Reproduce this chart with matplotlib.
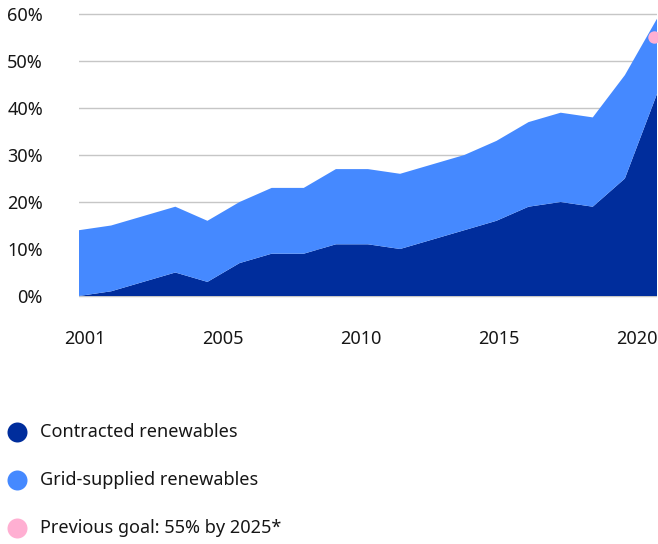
import numpy as np
import matplotlib
matplotlib.use("Agg")
import matplotlib.pyplot as plt
from matplotlib.lines import Line2D

# ── Data ─────────────────────────────────────────────────────────
contracted = [0, 1, 3, 5, 3, 7, 9, 9, 11, 11, 10, 12, 14, 16, 19, 20, 19, 25, 43]
total = [14, 15, 17, 19, 16, 20, 23, 23, 27, 27, 26, 28, 30, 33, 37, 39, 38, 47, 59]
grid_supplied = [t - c for t, c in zip(total, contracted)]
previous_goal = 55

year_labels = ["2001", "2005", "2010", "2015", "2020"]
y_ticks = [0, 10, 20, 30, 40, 50, 60]
legend_labels = ["Contracted renewables", "Grid-supplied renewables",
                 "Previous goal: 55% by 2025*"]

DARK = "#002d9c"
LIGHT = "#4589ff"
PINK = "#ffafd2"
TEXT = "#161616"
GRID = "#c6c6c6"

plt.rcParams["font.family"] = ["Noto Sans", "DejaVu Sans"]

W, H = 658, 544
fig = plt.figure(figsize=(W / 100, H / 100), dpi=100)

# axes placed in pixels: x index 0 -> 79px, 18 -> 657px; 0% -> 296px, 60% -> 14px
px_per_pct = (296 - 14) / 60
y_lo, y_hi = -0.5, 61
ax_bottom_px = 296 + (0 - y_lo) * px_per_pct
ax_top_px = 14 - (y_hi - 60) * px_per_pct
ax = fig.add_axes([79 / W, 1 - ax_bottom_px / H, (657 - 79) / W,
                   (ax_bottom_px - ax_top_px) / H])

x = np.arange(len(contracted))
ax.stackplot(x, contracted, grid_supplied, colors=[DARK, LIGHT], zorder=2)
ax.scatter([x[-1] - 0.08], [previous_goal], s=80, color=PINK, zorder=3,
           linewidths=0, clip_on=False)

for v in y_ticks:
    ax.axhline(v, color=GRID, linewidth=1, zorder=1)

ax.set_xlim(0, len(contracted) - 1)
ax.set_ylim(y_lo, y_hi)

ax.set_yticks(y_ticks)
ax.set_yticklabels([f"{v}%" for v in y_ticks])
ax.set_xticks(np.linspace(0.19, 17.37, len(year_labels)))
ax.set_xticklabels(year_labels)
ax.tick_params(axis="y", length=0, pad=26, labelsize=13, labelcolor=TEXT)
ax.tick_params(axis="x", length=0, pad=23, labelsize=13, labelcolor=TEXT)
for s in ax.spines.values():
    s.set_visible(False)

# ── Legend ───────────────────────────────────────────────────────
legend_colors = [DARK, LIGHT, PINK]
legend_y = [432, 480, 528]
for lab, col, ly in zip(legend_labels, legend_colors, legend_y):
    fig.add_artist(Line2D([17 / W], [1 - ly / H], transform=fig.transFigure,
                          marker="o", markersize=14.4, color=col,
                          markeredgewidth=0, linestyle="none"))
    fig.text(40 / W, 1 - ly / H, lab, fontsize=13, color=TEXT,
             va="center", ha="left")

fig.savefig("out.png", dpi=100)
